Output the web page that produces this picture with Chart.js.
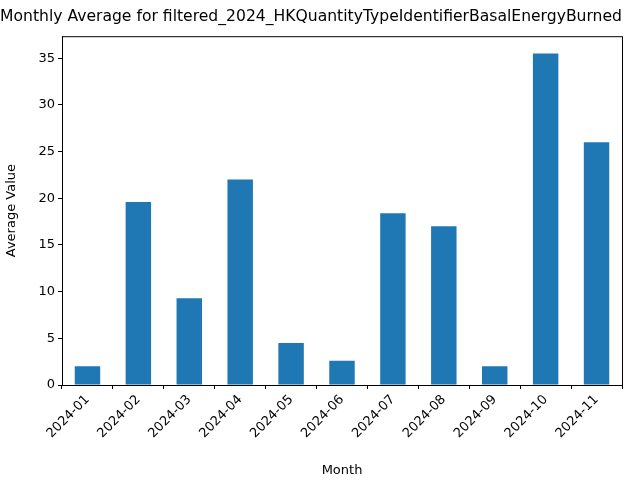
<!DOCTYPE html>
<html>
<head>
<script src="https://cdn.jsdelivr.net/npm/chart.js@4"></script>
<style>body{margin:0;background:#fff}#wrap{width:640px;height:480px}</style>
</head>
<body>
<div id="wrap"><canvas id="c"></canvas></div>
<script>
const months = ['2024-01','2024-02','2024-03','2024-04','2024-05','2024-06','2024-07','2024-08','2024-09','2024-10','2024-11'];
const averages = [2.0, 19.6, 9.3, 22.0, 4.5, 2.6, 18.4, 17.0, 2.0, 35.5, 26.0];
const yTicks = [0, 5, 10, 15, 20, 25, 30, 35];

// frame round the plot area, like matplotlib spines
const frame = {
  id: 'frame',
  afterDraw(chart) {
    const { ctx, chartArea: a } = chart;
    ctx.save();
    ctx.strokeStyle = '#000';
    ctx.lineWidth = 1;
    ctx.strokeRect(a.left + 0.5, a.top + 0.5, a.right - a.left, a.bottom - a.top);
    ctx.restore();
  }
};

Chart.defaults.font.family = 'DejaVu Sans';
Chart.defaults.color = '#000';

const tickGrid = { display: true, drawOnChartArea: false, tickLength: 4, color: '#000' };

new Chart(document.getElementById('c'), {
  type: 'bar',
  data: {
    labels: months,
    datasets: [{ data: averages, backgroundColor: '#1f77b4', barPercentage: 0.5, categoryPercentage: 1 }]
  },
  options: {
    responsive: true,
    maintainAspectRatio: false,
    animation: false,
    layout: { padding: { right: 18, top: 0 } },
    plugins: {
      legend: { display: false },
      tooltip: { enabled: false },
      title: { display: true, text: 'Monthly Average for filtered_2024_HKQuantityTypeIdentifierBasalEnergyBurned', font: { size: 16, weight: 'normal' }, padding: { top: 7, bottom: 10 } }
    },
    scales: {
      x: {
        grid: tickGrid,
        border: { color: '#000' },
        ticks: { maxRotation: 45, minRotation: 45, font: { size: 13 } },
        title: { display: true, text: 'Month', font: { size: 13 }, padding: 2 },
        afterFit: axis => { axis.height = 95; }
      },
      y: {
        min: 0,
        max: 37.35,
        grid: tickGrid,
        border: { color: '#000' },
        afterBuildTicks: axis => { axis.ticks = yTicks.map(v => ({ value: v })); },
        ticks: { font: { size: 13 } },
        title: { display: true, text: 'Average Value', font: { size: 13 }, padding: 4 },
        afterFit: axis => { axis.width = 62; }
      }
    }
  },
  plugins: [frame]
});
</script>
</body>
</html>
